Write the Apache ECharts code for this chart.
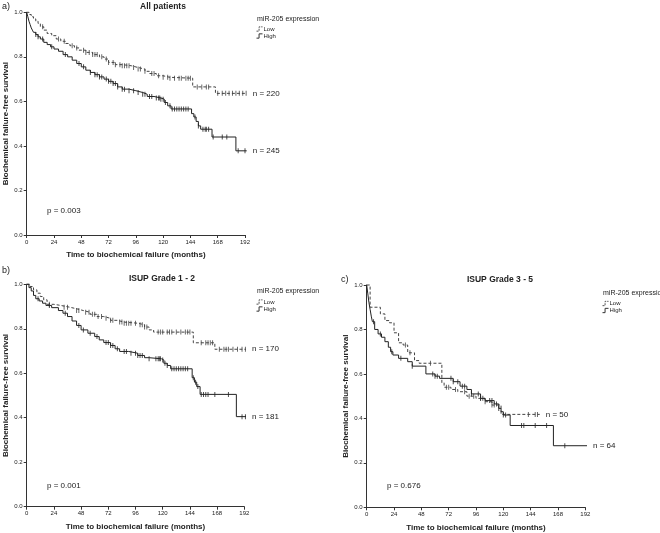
<!DOCTYPE html>
<html><head><meta charset="utf-8">
<script src="https://cdn.jsdelivr.net/npm/echarts@6/dist/echarts.min.js"></script>
<style>html,body{margin:0;padding:0;background:#fff}#c{width:660px;height:533px}</style>
</head><body><div id="c"></div>
<script>
// ---------- data ----------
const xTicks = [0, 24, 48, 72, 96, 120, 144, 168, 192];
const yTicks = [0.0, 0.2, 0.4, 0.6, 0.8, 1.0];
const groupNames = ['Low', 'High'];
const legendTitle = 'miR-205 expression';
const panelTitles = ['All patients', 'ISUP Grade 1 - 2', 'ISUP Grade 3 - 5'];
const panelLetters = ['a)', 'b)', 'c)'];
const pValues = ['p = 0.003', 'p = 0.001', 'p = 0.676'];
const nLow = [220, 170, 50];
const nHigh = [245, 181, 64];
const xTitle = 'Time to biochemical failure (months)';
const yTitle = 'Biochemical failure-free survival';

// Kaplan-Meier steps: [month, survival after event]
const aLowSteps = [[0,1],[2,0.99],[4,0.98],[6,0.97],[8,0.96],[10,0.95],[12,0.935],[15,0.92],[18,0.905],[22,0.895],[26,0.88],[30,0.87],[34,0.86],[38,0.85],[42,0.84],[46,0.83],[52,0.82],[58,0.81],[64,0.80],[68,0.79],[72,0.775],[78,0.765],[84,0.76],[92,0.752],[98,0.745],[104,0.735],[108,0.725],[114,0.715],[120,0.708],[126,0.704],[146,0.665],[166,0.636],[193.5,0.636]];
const aHighSteps = [[0,1],[1,0.98],[2,0.96],[3,0.945],[4,0.93],[5,0.92],[6,0.91],[8,0.90],[10,0.89],[12,0.88],[15,0.865],[18,0.855],[21,0.845],[24,0.835],[28,0.825],[32,0.81],[36,0.80],[40,0.785],[44,0.77],[48,0.755],[52,0.74],[56,0.73],[60,0.72],[64,0.71],[68,0.70],[72,0.69],[76,0.68],[80,0.665],[84,0.655],[90,0.648],[96,0.64],[102,0.632],[106,0.622],[112,0.615],[118,0.61],[121,0.595],[124,0.58],[127,0.566],[145,0.545],[147,0.53],[149,0.51],[151,0.49],[153,0.475],[163,0.44],[184,0.378],[193.5,0.378]];
const aLowCensor = [14,28,33,40,44,50,52,55,58,60,62,66,70,72,76,78,82,84,86,88,90,94,98,100,104,110,112,116,120,124,126,130,134,136,140,142,144,150,154,158,160,168,172,175,178,181,184,187,190,193];
const aHighCensor = [8,10,14,22,34,46,50,56,60,62,64,66,70,72,74,76,78,80,84,86,90,94,98,102,104,108,110,114,116,117,118,120,122,126,128,130,132,134,136,138,140,142,148,151,155,157,158,160,164,172,176,186,192];

const bLowSteps = [[0,1],[3,0.99],[6,0.975],[9,0.96],[12,0.945],[15,0.93],[18,0.91],[24,0.905],[30,0.897],[38,0.89],[44,0.882],[50,0.874],[56,0.865],[62,0.855],[68,0.847],[74,0.838],[80,0.83],[86,0.825],[98,0.818],[104,0.808],[108,0.795],[112,0.785],[147,0.737],[166,0.708],[193.5,0.708]];
const bHighSteps = [[0,1],[2,0.985],[4,0.97],[6,0.95],[8,0.935],[11,0.925],[14,0.915],[17,0.905],[22,0.895],[28,0.882],[32,0.87],[36,0.855],[40,0.835],[44,0.815],[48,0.795],[54,0.78],[60,0.765],[64,0.75],[68,0.738],[74,0.725],[78,0.71],[82,0.698],[90,0.69],[98,0.68],[104,0.67],[108,0.665],[119,0.66],[121,0.645],[124,0.635],[127,0.62],[146,0.58],[148,0.56],[150,0.54],[153,0.505],[185,0.405],[193.5,0.405]];
const bLowCensor = [20,33,36,44,46,52,55,58,60,63,66,70,74,76,82,84,86,88,90,92,96,100,102,104,106,116,118,120,124,126,128,132,136,140,142,144,154,158,160,162,164,170,174,176,178,182,186,190,193];
const bHighCensor = [10,20,34,46,50,56,62,70,72,74,76,80,86,88,92,96,98,100,102,108,114,116,117,118,120,122,124,128,130,132,134,136,138,140,142,147,149,151,154,156,158,160,166,178,190,193];

const cLowSteps = [[0,1],[3,0.9],[12,0.87],[16,0.84],[20,0.83],[24,0.785],[28,0.74],[32,0.73],[36,0.695],[42,0.66],[46,0.648],[66,0.56],[68,0.54],[74,0.53],[80,0.52],[88,0.5],[96,0.49],[104,0.475],[110,0.46],[118,0.418],[152,0.418]];
const cHighSteps = [[0,1],[1,0.96],[2,0.92],[3,0.89],[4,0.86],[5,0.835],[7,0.80],[10,0.78],[13,0.765],[16,0.745],[19,0.72],[21,0.70],[23,0.685],[28,0.67],[36,0.655],[40,0.635],[52,0.60],[60,0.59],[64,0.58],[76,0.565],[82,0.545],[88,0.53],[92,0.51],[100,0.49],[104,0.48],[112,0.465],[116,0.445],[118,0.43],[120,0.415],[126,0.368],[164,0.277],[193.5,0.277]];
const cLowCensor = [34,38,56,70,72,78,86,90,94,100,104,110,112,142,148,150];
const cHighCensor = [6,12,22,30,40,58,60,62,74,76,80,84,86,92,98,100,102,108,110,114,116,120,122,136,138,148,158,174];

// ---------- layout ----------
const FONT = 'Liberation Sans, Arial, sans-serif';
const INK = '#222';
const panels = [
  {grid:{left:26.7, top:12.3, width:218.3, height:222.7}, low:aLowSteps, high:aHighSteps, lowC:aLowCensor, highC:aHighCensor},
  {grid:{left:26.7, top:284.3, width:217.6, height:222.4}, low:bLowSteps, high:bHighSteps, lowC:bLowCensor, highC:bHighCensor},
  {grid:{left:366.7, top:285, width:218.6, height:222.3}, low:cLowSteps, high:cHighSteps, lowC:cLowCensor, highC:cHighCensor}
];
const textPos = [
  {letter:[2,7], title:[163,7], leg:[257,19], legBox:[256,26], p:[47,211]},
  {letter:[2,271], title:[162,278.5], leg:[257,291], legBox:[256,299], p:[47,485.5]},
  {letter:[341,280], title:[500,280], leg:[603,293], legBox:[602,300.5], p:[387,485.5]}
];
const STEP_ICON = 'path://M0,6L3,6L3,1L7,1';

function survAt(steps, t) {
  let s = steps[0][1];
  for (const [x, y] of steps) { if (x <= t) s = y; else break; }
  return s;
}

const grid = [], xAxis = [], yAxis = [], series = [], legend = [], graphic = [];
panels.forEach((p, i) => {
  grid.push(Object.assign({containLabel:false}, p.grid));
  xAxis.push({
    gridIndex:i, type:'value', min:xTicks[0], max:xTicks[xTicks.length-1], interval:xTicks[1]-xTicks[0],
    axisLine:{show:true, onZero:false, lineStyle:{color:'#333', width:1}},
    axisTick:{show:true, length:3, lineStyle:{color:'#333'}},
    axisLabel:{fontSize:6, margin:4, color:INK, fontFamily:FONT},
    splitLine:{show:false},
    name:xTitle, nameLocation:'middle', nameGap:16,
    nameTextStyle:{fontWeight:'bold', fontSize:8, color:INK, fontFamily:FONT}
  });
  yAxis.push({
    gridIndex:i, type:'value', min:yTicks[0], max:yTicks[yTicks.length-1], interval:yTicks[1]-yTicks[0],
    axisLine:{show:true, onZero:false, lineStyle:{color:'#333', width:1}},
    axisTick:{show:true, length:3, lineStyle:{color:'#333'}},
    axisLabel:{fontSize:6, margin:4, color:INK, fontFamily:FONT, formatter:v => v.toFixed(1)},
    splitLine:{show:false},
    name:yTitle, nameLocation:'middle', nameGap:17, nameRotate:90,
    nameTextStyle:{fontWeight:'bold', fontSize:8, color:INK, fontFamily:FONT}
  });
  const defs = [
    {name:groupNames[0], steps:p.low, cens:p.lowC, n:nLow[i], color:'#444', type:[3,2]},
    {name:groupNames[1], steps:p.high, cens:p.highC, n:nHigh[i], color:'#222', type:'solid'}
  ];
  defs.forEach(d => {
    series.push({
      type:'line', name:d.name, xAxisIndex:i, yAxisIndex:i, step:'end', data:d.steps,
      symbol:'none', showSymbol:false, clip:false, silent:true, animation:false,
      lineStyle:{color:d.color, width:1, type:d.type},
      itemStyle:{color:d.color},
      endLabel:{show:true, formatter:'n = ' + d.n, distance:6, fontSize:8, color:INK, fontFamily:FONT}
    });
    series.push({
      type:'scatter', name:d.name + ' censored', xAxisIndex:i, yAxisIndex:i,
      data:d.cens.map(t => [t, survAt(d.steps, t)]),
      symbol:'rect', symbolSize:[1,5], clip:false, silent:true, animation:false,
      itemStyle:{color:d.color}
    });
  });
  const tp = textPos[i];
  legend.push({
    orient:'vertical', left:tp.legBox[0], top:tp.legBox[1], padding:0, itemGap:1,
    itemWidth:6, itemHeight:6, selectedMode:false,
    data:[
      {name:groupNames[0], icon:STEP_ICON, itemStyle:{color:'transparent', borderColor:'#555', borderWidth:1, borderType:[2,1]}},
      {name:groupNames[1], icon:STEP_ICON, itemStyle:{color:'transparent', borderColor:'#333', borderWidth:1, borderType:'solid'}}
    ],
    textStyle:{fontSize:6, color:INK, fontFamily:FONT, padding:[0,0,0,-4]}
  });
  graphic.push(
    {type:'text', x:tp.letter[0], y:tp.letter[1], style:{text:panelLetters[i], font:'9px ' + FONT, fill:INK, textAlign:'left', textVerticalAlign:'middle'}},
    {type:'text', x:tp.title[0], y:tp.title[1], style:{text:panelTitles[i], font:'bold 8.5px ' + FONT, fill:INK, textAlign:'center', textVerticalAlign:'middle'}},
    {type:'text', x:tp.leg[0], y:tp.leg[1], style:{text:legendTitle, font:'7px ' + FONT, fill:INK, textAlign:'left', textVerticalAlign:'middle'}},
    {type:'text', x:tp.p[0], y:tp.p[1], style:{text:pValues[i], font:'8px ' + FONT, fill:INK, textAlign:'left', textVerticalAlign:'middle'}}
  );
});

const chart = echarts.init(document.getElementById('c'), null, {renderer:'canvas'});
chart.setOption({
  backgroundColor:'#fff', animation:false,
  textStyle:{fontFamily:FONT},
  grid, xAxis, yAxis, series, legend, graphic
});
</script></body></html>
